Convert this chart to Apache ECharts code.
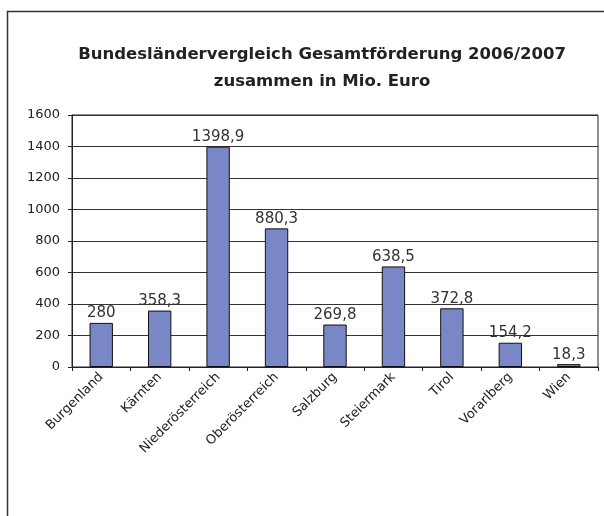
<!DOCTYPE html>
<html>
<head>
<meta charset="utf-8">
<script src="https://cdn.jsdelivr.net/npm/echarts@6/dist/echarts.min.js"></script>
<style>
  html, body { margin: 0; padding: 0; background: #ffffff; }
  #chart { width: 604px; height: 516px; }
</style>
</head>
<body>
<div id="chart"></div>
<script>
const categories = [
  'Burgenland', 'Kärnten', 'Niederösterreich', 'Oberösterreich',
  'Salzburg', 'Steiermark', 'Tirol', 'Vorarlberg', 'Wien'
]
const values = [280, 358.3, 1398.9, 880.3, 269.8, 638.5, 372.8, 154.2, 18.3]
const yTicks = [0, 200, 400, 600, 800, 1000, 1200, 1400, 1600]

const fontFamily = '"DejaVu Sans", Verdana, sans-serif'
const textColor = '#222222'

const chart = echarts.init(document.getElementById('chart'))

chart.setOption({
  backgroundColor: '#ffffff',
  animation: false,
  title: {
    text: 'Bundesländervergleich Gesamtförderung 2006/2007\nzusammen in Mio. Euro',
    left: 317,
    top: 36,
    textAlign: 'center',
    textStyle: {
      fontFamily,
      fontSize: 16.5,
      fontWeight: 'bold',
      color: textColor,
      lineHeight: 27,
    },
  },
  graphic: [
    {
      type: 'rect',
      shape: { x: 7.5, y: 11.5, width: 700, height: 600 },
      style: { fill: 'none', stroke: '#333333', lineWidth: 1.5 },
      silent: true,
    },
  ],
  grid: {
    left: 72,
    right: 6,
    top: 115,
    bottom: 149,
    show: true,
    borderColor: '#222222',
    borderWidth: 1,
  },
  xAxis: {
    type: 'category',
    data: categories,
    axisLine: { lineStyle: { color: '#222222', width: 1 } },
    axisTick: { show: true, length: 4, lineStyle: { color: '#222222' } },
    axisLabel: {
      rotate: 45,
      margin: 8,
      fontFamily,
      fontSize: 13,
      color: textColor,
      interval: 0,
    },
  },
  yAxis: {
    type: 'value',
    min: yTicks[0],
    max: yTicks[yTicks.length - 1],
    interval: 200,
    axisLine: { show: true, lineStyle: { color: '#222222', width: 1 } },
    axisTick: { show: true, length: 4, lineStyle: { color: '#222222' } },
    axisLabel: {
      margin: 12,
      fontFamily,
      fontSize: 13,
      color: textColor,
      formatter: (v) => String(v),
    },
    splitLine: { lineStyle: { color: '#333333', width: 1 } },
  },
  series: [
    {
      type: 'bar',
      data: values,
      barWidth: '40%',
      itemStyle: {
        color: '#7A87C6',
        borderColor: '#111111',
        borderWidth: 1,
      },
      label: {
        show: true,
        position: 'top',
        distance: 2,
        fontFamily,
        fontSize: 15,
        color: '#333333',
        formatter: (p) => String(p.value).replace('.', ','),
      },
    },
  ],
})
</script>
</body>
</html>
